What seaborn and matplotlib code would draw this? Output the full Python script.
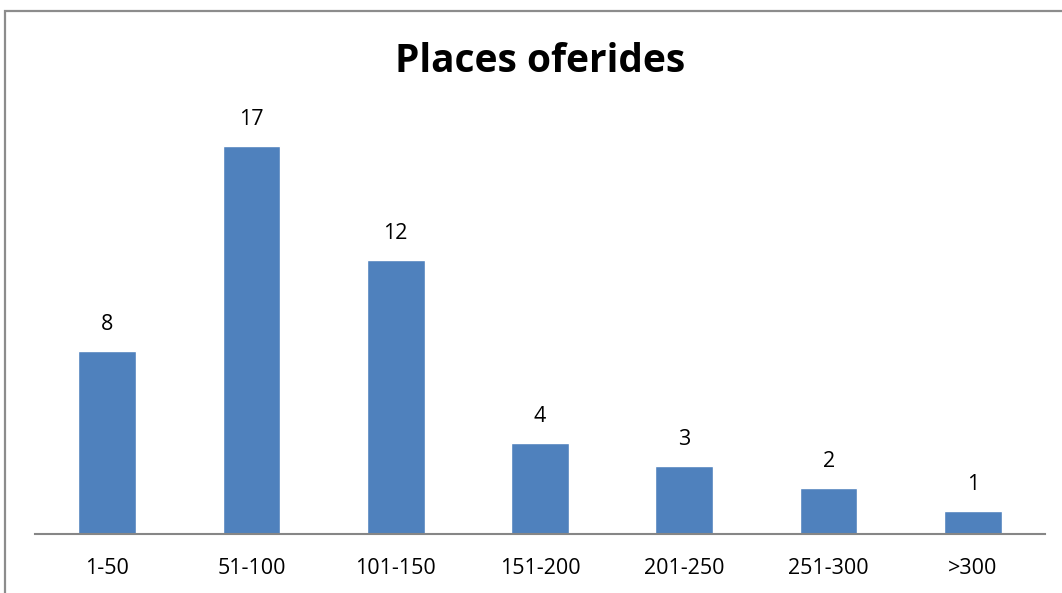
import matplotlib
matplotlib.use('Agg')
import matplotlib.pyplot as plt
import matplotlib.patches as mpatches
import seaborn as sns
import pandas as pd

# ── Données ──────────────────────────────────────────────────────────
categories = ['1-50', '51-100', '101-150', '151-200', '201-250', '251-300', '>300']
values = [8, 17, 12, 4, 3, 2, 1]
title = 'Places oferides'

df = pd.DataFrame({'cat': categories, 'val': values})

sns.set_style('white')
plt.rcParams['font.family'] = ['Open Sans', 'DejaVu Sans']

W, H = 1062, 593
fig = plt.figure(figsize=(W / 100, H / 100), dpi=100)
fig.patch.set_facecolor('white')

# zone de tracé (en pixels : x 35→1045, base y 534)
ax = fig.add_axes([35 / W, (H - 534) / H, 1010 / W, 411 / H])
sns.barplot(data=df, x='cat', y='val', color='#4f81bd', saturation=1,
            width=0.4, ax=ax)
ax.set_ylim(0, 18)
ax.set_xlim(-0.5, len(categories) - 0.5)

for i, v in enumerate(values):
    ax.text(i, v + 0.7, str(v), ha='center', va='bottom', fontsize=15.5,
            color='black', clip_on=False)

for s in ['top', 'right', 'left']:
    ax.spines[s].set_visible(False)
ax.spines['bottom'].set_color('#868686')
ax.spines['bottom'].set_linewidth(1.5)
ax.set_yticks([])
ax.set_xlabel('')
ax.set_ylabel('')
ax.tick_params(axis='x', length=0, labelsize=15.5, pad=17, labelcolor='black')

fig.text(540 / W, 1 - 62 / H, title, ha='center', va='center',
         fontsize=28, fontweight='bold', color='black')

# cadre du graphique
rect = mpatches.Rectangle((4.5 / W, -0.1), 1.2, (H - 11) / H + 0.1,
                          transform=fig.transFigure, fill=False,
                          edgecolor='#8c8c8c', linewidth=1.6)
fig.patches.append(rect)

fig.savefig('out.png', dpi=100)
